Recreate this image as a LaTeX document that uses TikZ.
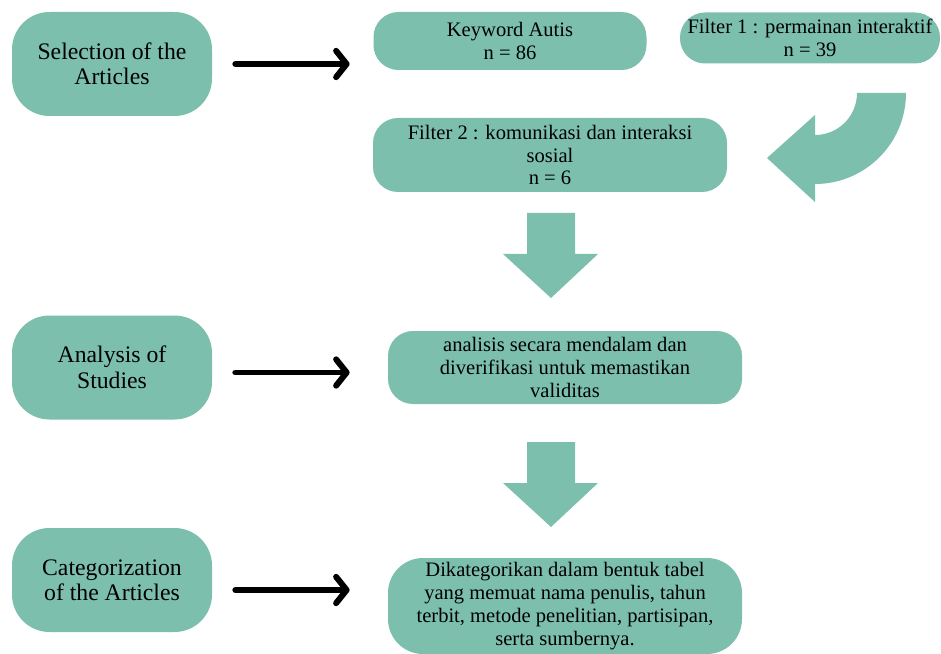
\documentclass[tikz,border=0pt]{standalone}
\usepackage{fontspec}
\setmainfont{Liberation Serif}
\usetikzlibrary{arrows.meta}
\definecolor{sage}{RGB}{124,191,173}
\tikzstyle{stage} = [rectangle, rounded corners=0.75cm, minimum width=4cm, minimum height=2.08cm, inner sep=0pt, align=center, fill=sage, font=\fontsize{13.5}{14.5}\selectfont]
\tikzstyle{pill} = [rectangle, rounded corners=0.5cm, inner sep=0pt, align=center, fill=sage, font=\fontsize{11.7}{13}\selectfont]
\tikzstyle{arrow} = [line width=3.4pt, line cap=round, -{Straight Barb[round, length=6pt, width=15pt]}]
\tikzstyle{bigarrow} = [fill=sage]

\begin{document}
\begin{tikzpicture}[node distance=2cm]
    \useasboundingbox (0,0) rectangle (18.82,-13.08);
    %nodes
    \node (sel) [stage] at (2.24,-1.28) {Selection of the\\Articles};
    \node (stud) [stage, below of=sel, yshift=-4.07cm] {Analysis of\\Studies};
    \node (cat) [stage, below of=stud, yshift=-2.25cm] {Categorization\\of the Articles};
    \node (kw) [pill, minimum width=5.46cm, minimum height=1.16cm, right of=sel, xshift=5.96cm, yshift=0.46cm] {Keyword Autis\\n = 86};
    \node (f1) [pill, minimum width=5.2cm, minimum height=1.02cm, right of=kw, xshift=4cm, yshift=0.06cm] {Filter 1 : permainan interaktif\\n = 39};
    \node (f2) [pill, minimum width=7.08cm, minimum height=1.48cm, below of=kw, xshift=0.8cm, yshift=-0.28cm] {Filter 2 : komunikasi dan interaksi\\sosial\\n = 6};
    \node (anl) [pill, minimum width=7.08cm, minimum height=1.46cm, right of=stud, xshift=7.06cm] {analisis secara mendalam dan\\diverifikasi untuk memastikan\\validitas};
    \node (dik) [pill, minimum width=7.08cm, minimum height=1.92cm, rounded corners=0.7cm, right of=cat, xshift=7.06cm, yshift=-0.52cm] {Dikategorikan dalam bentuk tabel\\yang memuat nama penulis, tahun\\terbit, metode penelitian, partisipan,\\serta sumbernya.};

    %arrows
    \draw [arrow, shorten <=0.46cm, shorten >=0.47cm] (sel.east) -- (kw.west |- sel.east);
    \draw [arrow, shorten <=0.46cm, shorten >=0.76cm] ([yshift=-0.1cm]stud.east) -- ([yshift=-0.1cm]anl.west);
    \draw [arrow, shorten <=0.46cm, shorten >=0.76cm] ([yshift=-0.2cm]cat.east) -- ([yshift=0.32cm]dik.west);

    %block arrows
    \fill [bigarrow] (18.12,-1.86) arc[start angle=0, end angle=-90, radius=1.82cm] -- (16.30,-4.04) -- (15.34,-3.16) -- (16.30,-2.30) -- (16.30,-2.70) arc[start angle=-90, end angle=0, radius=0.84cm] -- cycle;
    \foreach \top in {-4.26,-8.84}
        \fill [bigarrow, yshift=\top cm] (10.54,0) -- (11.50,0) -- (11.50,-0.82) -- (11.96,-0.82) -- (11.02,-1.70) -- (10.06,-0.82) -- (10.54,-0.82) -- cycle;
\end{tikzpicture}
\end{document}
